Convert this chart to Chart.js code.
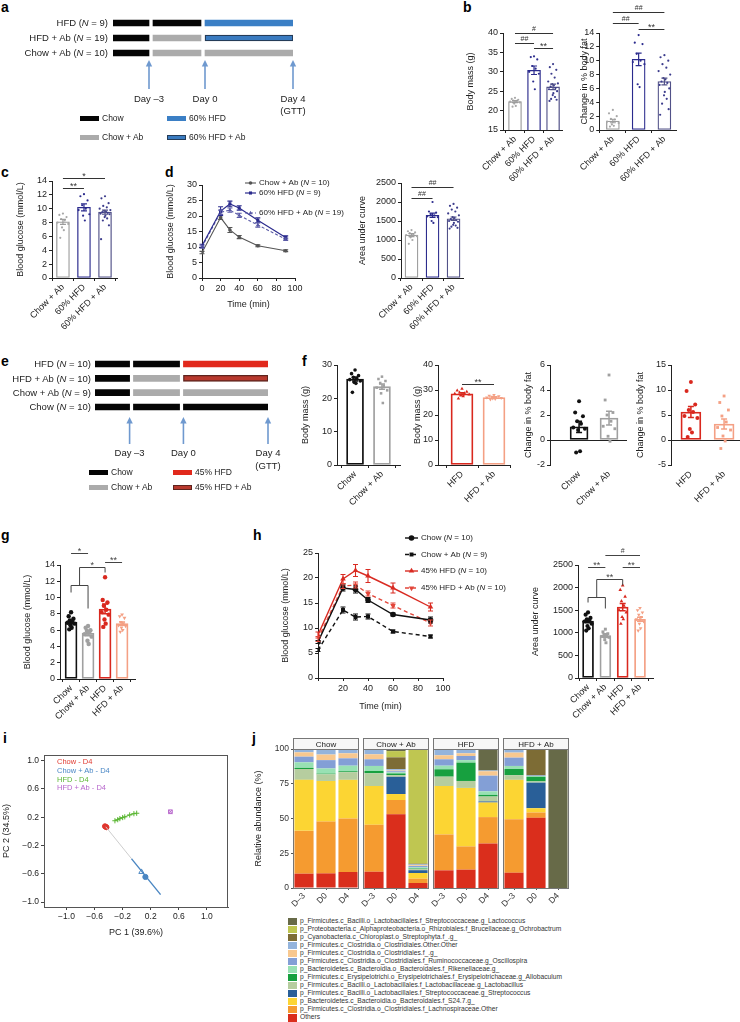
<!DOCTYPE html>
<html><head><meta charset="utf-8">
<script src="https://cdn.jsdelivr.net/npm/chart.js@4.4.1/dist/chart.umd.min.js"></script>
<style>
html,body{margin:0;padding:0;background:#fff}
body{position:relative;width:740px;height:1022px;overflow:hidden;font-family:"Liberation Sans",Arial,Helvetica,sans-serif;color:#222}
canvas{position:absolute}
.t{position:absolute;white-space:nowrap;line-height:1}
.L{position:absolute;font-weight:bold;font-size:14px;line-height:1;color:#000}
.sw{position:absolute;box-sizing:border-box}
</style></head><body>
<script>
// ======================= DATA =======================
// a / e : study design (stage bounds in schematic units)
const stageBounds = [[0, 36], [40, 88], [92, 180]];
const stageMarks = [36, 92, 180];
const stageMarkLabels = ['Day –3', 'Day 0', 'Day 4'];
const stageMarkNotes = ['', '', '(GTT)'];
const rowsA = ['HFD (<i>N</i> = 9)', 'HFD + Ab (<i>N</i> = 19)', 'Chow + Ab (<i>N</i> = 10)'];
const dietsA = [['Chow', 'Chow', '60% HFD'], ['Chow', 'Chow + Ab', '60% HFD + Ab'], ['Chow', 'Chow + Ab', 'Chow + Ab']];
const legendA = [['Chow', '60% HFD'], ['Chow + Ab', '60% HFD + Ab']];
const rowsE = ['HFD (<i>N</i> = 10)', 'HFD + Ab (<i>N</i> = 10)', 'Chow + Ab (<i>N</i> = 9)', 'Chow (<i>N</i> = 10)'];
const dietsE = [['Chow', 'Chow', '45% HFD'], ['Chow', 'Chow + Ab', '45% HFD + Ab'], ['Chow', 'Chow + Ab', 'Chow + Ab'], ['Chow', 'Chow', 'Chow']];
const legendE = [['Chow', '45% HFD'], ['Chow + Ab', '45% HFD + Ab']];

// b, c, d : 60% HFD cohort
const groups60 = ['Chow + Ab', '60% HFD', '60% HFD + Ab'];
const massMean60 = [22.3, 30.4, 26.1];
const massSem60 = [0.25, 1.1, 0.7];
const massPts60 = [
  [23.3, 23.0, 22.8, 22.6, 22.5, 22.3, 22.1, 21.8, 21.2, 21.0],
  [34.0, 33.8, 33.2, 31.5, 30.8, 30.0, 29.5, 27.5, 25.5],
  [32.0, 31.2, 30.5, 29.5, 28.5, 27.5, 27.0, 26.8, 26.5, 26.2, 25.8, 25.5, 25.0, 24.5, 24.0, 23.5, 23.0, 22.8, 22.5]];
const fatMean60 = [1.3, 10.2, 7.0];
const fatSem60 = [0.25, 0.9, 0.5];
const fatPts60 = [
  [2.9, 2.4, 2.0, 1.6, 1.5, 1.2, 1.0, 0.8, 0.6, 0.5],
  [13.7, 12.6, 12.4, 11.0, 10.0, 9.8, 9.5, 6.6, 6.2],
  [10.8, 10.5, 10.0, 9.5, 9.0, 8.5, 8.0, 7.5, 7.3, 7.0, 6.8, 6.5, 6.0, 5.5, 5.0, 4.5, 3.8, 3.0, 2.2]];
const glcMean60 = [8.1, 10.2, 9.5];
const glcSem60 = [0.35, 0.5, 0.3];
const glcPts60 = [
  [9.3, 9.1, 8.8, 8.5, 8.3, 8.0, 7.8, 7.3, 6.9, 5.8],
  [12.1, 11.8, 11.2, 10.5, 10.0, 9.8, 9.2, 9.0, 8.3],
  [11.8, 11.5, 10.8, 10.4, 10.2, 10.0, 9.8, 9.7, 9.6, 9.5, 9.4, 9.3, 9.2, 9.0, 8.8, 8.6, 8.3, 7.6, 5.6]];
const aucMean60 = [1130, 1650, 1560];
const aucSem60 = [40, 55, 45];
const aucPts60 = [
  [1260, 1230, 1200, 1180, 1150, 1130, 1100, 1070, 1000, 900],
  [2000, 1750, 1720, 1680, 1650, 1620, 1600, 1500, 1450],
  [1950, 1900, 1850, 1800, 1750, 1700, 1650, 1600, 1580, 1550, 1520, 1500, 1480, 1450, 1400, 1380, 1350, 1320, 1300]];
const gttTimes = [0, 20, 30, 40, 60, 90];
const gttChowAb60 = [8.2, 19.5, 15.5, 13.2, 10.4, 8.8];
const gttChowAb60Sem = [0.4, 0.6, 0.8, 0.5, 0.3, 0.3];
const gttHfd60 = [10.4, 21.6, 23.9, 22.6, 18.6, 13.1];
const gttHfd60Sem = [0.5, 1.4, 0.9, 0.7, 0.8, 0.5];
const gttHfdAb60 = [10.0, 21.2, 21.9, 20.2, 17.1, 12.5];
const gttHfdAb60Sem = [0.4, 0.7, 0.7, 0.7, 0.7, 0.4];
const legendD = [['Chow + Ab (', 'N', ' = 10)'], ['60% HFD (', 'N', ' = 9)'], ['60% HFD + Ab (', 'N', ' = 19)']];

// f, g, h : 45% HFD cohort
const groupsChow = ['Chow', 'Chow + Ab'];
const groupsHfd = ['HFD', 'HFD + Ab'];
const groups45 = ['Chow', 'Chow + Ab', 'HFD', 'HFD + Ab'];
const massMeanChow = [25.8, 23.5];
const massSemChow = [0.6, 0.8];
const massPtsChow = [
  [28.5, 27.4, 26.8, 26.3, 25.9, 25.6, 25.2, 24.8, 24.5, 21.8],
  [26.5, 25.8, 25.2, 24.6, 23.8, 23.2, 22.4, 21.5, 18.6]];
const massMeanHfd = [28.5, 27.0];
const massSemHfd = [0.4, 0.3];
const massPtsHfd = [
  [30.5, 29.8, 29.3, 29.0, 28.7, 28.5, 28.2, 27.8, 27.5, 26.6],
  [28.0, 27.7, 27.5, 27.3, 27.1, 27.0, 26.8, 26.6, 26.4, 26.2]];
const fatMeanChow = [1.05, 1.75];
const fatSemChow = [0.45, 0.55];
const fatPtsChow = [
  [3.1, 2.2, 1.9, 1.5, 1.3, 1.0, 0.9, 0.8, -0.9, -1.0],
  [5.2, 3.2, 2.2, 2.0, 1.5, 1.1, 0.9, 0.3, -0.1]];
const fatMeanHfd = [5.6, 3.2];
const fatSemHfd = [1.1, 1.0];
const fatPtsHfd = [
  [11.6, 9.8, 7.1, 6.0, 5.6, 4.8, 4.4, 2.2, 1.5, 0.6],
  [8.8, 7.5, 6.0, 4.8, 3.6, 2.5, 2.0, 0.8, -0.2, -1.7]];
const glcMean45 = [7.0, 5.6, 8.6, 6.8];
const glcSem45 = [0.2, 0.3, 0.6, 0.2];
const glcPts45 = [
  [8.2, 7.7, 7.4, 7.2, 7.0, 6.9, 6.8, 6.6, 6.3, 6.1],
  [6.5, 6.3, 6.0, 5.9, 5.7, 5.5, 5.2, 4.7, 4.3],
  [12.5, 9.7, 9.4, 9.0, 8.5, 8.2, 7.9, 7.3, 6.8, 6.4],
  [7.9, 7.7, 7.5, 7.0, 6.8, 6.6, 6.5, 6.3, 6.0, 5.8]];
const aucMean45 = [1260, 940, 1570, 1300];
const aucSem45 = [40, 40, 80, 45];
const aucPts45 = [
  [1450, 1400, 1330, 1300, 1280, 1250, 1200, 1150, 1100, 1050],
  [1080, 1020, 980, 960, 940, 920, 900, 850, 780],
  [2050, 1950, 1800, 1700, 1600, 1500, 1450, 1350, 1300, 1200],
  [1550, 1500, 1450, 1400, 1350, 1300, 1250, 1200, 1100, 1050]];
const gttChow45 = [7.2, 18.0, 17.7, 15.6, 12.7, 11.6];
const gttChow45Sem = [0.3, 0.6, 0.7, 0.5, 0.3, 0.6];
const gttChowAb45 = [5.6, 13.6, 12.2, 12.3, 9.3, 8.3];
const gttChowAb45Sem = [0.3, 0.6, 0.6, 0.5, 0.3, 0.3];
const gttHfd45 = [8.6, 19.8, 21.5, 20.4, 18.0, 14.2];
const gttHfd45Sem = [0.6, 0.9, 1.2, 1.3, 1.0, 0.8];
const gttHfdAb45 = [7.8, 18.4, 18.6, 16.9, 14.5, 11.0];
const gttHfdAb45Sem = [0.5, 0.5, 0.6, 0.5, 0.5, 0.6];
const legendH = [['Chow (', 'N', ' = 10)'], ['Chow + Ab (', 'N', ' = 9)'], ['45% HFD (', 'N', ' = 10)'], ['45% HFD + Ab (', 'N', ' = 10)']];

// i : PCA
const pcChowD4 = [[-0.44, 0.064], [-0.452, 0.072], [-0.43, 0.058]];
const pcHfdD4 = [[-0.31, 0.15], [-0.27, 0.165], [-0.24, 0.18], [-0.2, 0.195], [-0.17, 0.205], [-0.1, 0.232], [-0.04, 0.25], [0.0, 0.256]];
const pcHfdAbD4 = [[0.48, 0.277]];
const pcChowAbD4 = [[0.067, -0.574], [0.124, -0.645]];
const pcChowAbPath = [[-0.075, -0.385], [0.34, -0.895]];
const pcLink = [[-0.44, 0.064], [-0.075, -0.385]];
const pcTicks = [-1.0, -0.6, -0.2, 0.2, 0.6, 1.0];
const pcLegend = ['Chow - D4', 'Chow + Ab - D4', 'HFD - D4', 'HFD + Ab - D4'];

// j : relative abundance (%) ; bars = Chow D-3,D0,D4 | Chow+Ab | HFD | HFD+Ab
const facets = ['Chow', 'Chow + Ab', 'HFD', 'HFD + Ab'];
const days = ['D–3', 'D0', 'D4'];
const abOthers    = [10.3, 10.5, 11.5, 11.7, 53.0, 3.6, 12.7, 13.2, 32.0, 11.0, 50.5, 0];
const abLachno    = [30.8, 37.3, 38.5, 33.8, 10.3, 3.1, 25.8, 16.7, 19.0, 38.5, 3.8, 0];
const abS247      = [36.7, 29.2, 27.8, 27.9, 4.3, 4.1, 34.9, 42.1, 10.5, 28.3, 3.1, 0];
const abStrep     = [0, 0, 0, 0, 12.4, 2.0, 0, 0, 0.8, 0, 18.4, 0];
const abLacto     = [7.8, 4.8, 5.5, 9.1, 1.2, 0.8, 6.7, 5.0, 3.5, 3.3, 0.9, 0];
const abAllo      = [0.8, 0.5, 0.7, 1.7, 1.2, 0.4, 5.3, 13.2, 1.2, 4.5, 3.3, 0];
const abRiken     = [4.0, 3.7, 4.0, 3.6, 0.8, 0.8, 2.6, 1.8, 2.5, 2.2, 0.5, 0];
const abOscill    = [4.1, 6.0, 5.3, 4.8, 0.8, 1.0, 4.6, 3.0, 11.3, 6.0, 0.5, 0];
const abClosFg    = [3.1, 4.0, 3.6, 3.6, 0.5, 0.6, 2.9, 1.9, 3.2, 3.6, 0, 0];
const abClosOther = [2.4, 4.0, 3.1, 3.8, 1.0, 0.6, 4.5, 3.1, 0.5, 2.6, 0, 0];
const abChloro    = [0, 0, 0, 0, 8.5, 0.5, 0, 0, 0, 0, 19.0, 0];
const abOchro     = [0, 0, 0, 0, 4.5, 82.5, 0, 0, 0, 0, 0, 0];
const abLactoc    = [0, 0, 0, 0, 1.5, 0, 0, 0, 15.5, 0, 0, 100];
const taxaNames = [
  'Others',
  'p_Firmicutes.c_Clostridia.o_Clostridiales.f_Lachnospiraceae.Other',
  'p_Bacteroidetes.c_Bacteroidia.o_Bacteroidales.f_S24.7.g_',
  'p_Firmicutes.c_Bacilli.o_Lactobacillales.f_Streptococcaceae.g_Streptococcus',
  'p_Firmicutes.c_Bacilli.o_Lactobacillales.f_Lactobacillaceae.g_Lactobacillus',
  'p_Firmicutes.c_Erysipelotrichi.o_Erysipelotrichales.f_Erysipelotrichaceae.g_Allobaculum',
  'p_Bacteroidetes.c_Bacteroidia.o_Bacteroidales.f_Rikenellaceae.g_',
  'p_Firmicutes.c_Clostridia.o_Clostridiales.f_Ruminococcaceae.g_Oscillospira',
  'p_Firmicutes.c_Clostridia.o_Clostridiales.f_.g_',
  'p_Firmicutes.c_Clostridia.o_Clostridiales.Other.Other',
  'p_Cyanobacteria.c_Chloroplast.o_Streptophyta.f_.g_',
  'p_Proteobacteria.c_Alphaproteobacteria.o_Rhizobiales.f_Brucellaceae.g_Ochrobactrum',
  'p_Firmicutes.c_Bacilli.o_Lactobacillales.f_Streptococcaceae.g_Lactococcus'];
const taxaValues = [abOthers, abLachno, abS247, abStrep, abLacto, abAllo, abRiken, abOscill, abClosFg, abClosOther, abChloro, abOchro, abLactoc];

// ======================= STYLE =======================
const FONT = '"Liberation Sans", Arial, Helvetica, sans-serif';
const dietColor = {'Chow': '#050505', 'Chow + Ab': '#ababab', '60% HFD': '#3b7fc5', '60% HFD + Ab': '#3a7bc0', '45% HFD': '#e1291c', '45% HFD + Ab': '#b8392e'};
const dietBorder = {'60% HFD + Ab': '#253c58', '45% HFD + Ab': '#5e241e'};
const taxaColors = ['#da2e1c', '#f59b30', '#fcd533', '#295f98', '#b6cd9f', '#17a03f', '#98e1b3', '#839fd6', '#f8c88f', '#94b4dc', '#7d6c35', '#bfc651', '#676a48'];
const C60 = ['#9d9d9d', '#2b2b8d', '#525288'];
const P60 = ['#a8a8a8', '#2b2b8d', '#3c3c8c'];
const K = '#111111', G = '#a0a0a0', R = '#d9281e', S = '#f4a084';
const plainNum = v => String(v);

Chart.defaults.font.family = FONT;
Chart.defaults.font.size = 9;
Chart.defaults.color = '#222';
Chart.defaults.animation = false;
Chart.defaults.responsive = false;
Chart.defaults.maintainAspectRatio = false;
Chart.defaults.devicePixelRatio = 1;
Chart.defaults.events = [];
Chart.defaults.plugins.legend.display = false;
Chart.defaults.plugins.tooltip.enabled = false;

// ======================= HELPERS =======================
function addCanvas(x, y, w, h) {
  const c = document.createElement('canvas');
  c.width = w; c.height = h;
  c.style.left = x + 'px'; c.style.top = y + 'px';
  c.style.width = w + 'px'; c.style.height = h + 'px';
  document.body.appendChild(c);
  return c;
}
function addText(html, x, cy, size, align, color, cls) {
  const d = document.createElement('div');
  d.className = cls || 't';
  d.innerHTML = html;
  d.style.fontSize = size + 'px';
  d.style.top = (cy - size / 2) + 'px';
  if (color) d.style.color = color;
  if (align === 'right') d.style.right = (740 - x) + 'px';
  else if (align === 'center') { d.style.left = x + 'px'; d.style.transform = 'translateX(-50%)'; }
  else d.style.left = x + 'px';
  document.body.appendChild(d);
  return d;
}
function addBox(x, y, w, h, fill, border) {
  const d = document.createElement('div');
  d.className = 'sw';
  d.style.left = x + 'px'; d.style.top = y + 'px';
  d.style.width = w + 'px'; d.style.height = h + 'px';
  d.style.background = fill;
  if (border) d.style.border = '1px solid ' + border;
  document.body.appendChild(d);
}
function addLetter(ch, x, baseline) {
  const d = document.createElement('div');
  d.className = 'L'; d.textContent = ch;
  d.style.left = x + 'px'; d.style.top = (baseline - 12) + 'px';
  document.body.appendChild(d);
}
// horizontal spreading of individual dots (layout only)
const spreadPattern = [0, -1, 1, -0.5, 0.5, -1.5, 1.5, -0.25, 0.25, -0.75, 0.75, -1.25, 1.25, 0.1, -0.1, 0.6, -0.6, 1.1, -1.1];
function spread(k) { return spreadPattern[k % spreadPattern.length]; }
const toXY = arr => arr.map(p => ({x: p[0], y: p[1]}));

const errPlugin = {
  id: 'errs',
  afterDatasetsDraw(chart, args, o) {
    if (!o || !o.items) return;
    const ctx = chart.ctx, xs = chart.scales.x, ys = chart.scales.y;
    ctx.save();
    o.items.forEach(it => {
      it.m.forEach((m, i) => {
        const e = it.e[i];
        if (!e) return;
        const px = xs.getPixelForValue(it.xs ? it.xs[i] : i);
        const y1 = ys.getPixelForValue(m - e), y2 = ys.getPixelForValue(m + e);
        ctx.strokeStyle = Array.isArray(it.color) ? it.color[i] : it.color;
        ctx.lineWidth = it.w;
        ctx.beginPath();
        ctx.moveTo(px, y1); ctx.lineTo(px, y2);
        ctx.moveTo(px - it.cap, y1); ctx.lineTo(px + it.cap, y1);
        ctx.moveTo(px - it.cap, y2); ctx.lineTo(px + it.cap, y2);
        ctx.stroke();
      });
    });
    ctx.restore();
  }
};
const sigPlugin = {
  id: 'sig',
  afterDraw(chart, args, o) {
    if (!o || !o.items || !o.items.length) return;
    const ctx = chart.ctx, xs = chart.scales.x, ys = chart.scales.y;
    ctx.save();
    ctx.strokeStyle = o.color || '#333'; ctx.fillStyle = o.color || '#333';
    ctx.lineWidth = 1;
    ctx.textAlign = 'center'; ctx.textBaseline = 'alphabetic';
    o.items.forEach(it => {
      ctx.beginPath();
      it.p.forEach((q, k) => {
        const px = xs.getPixelForValue(q[0]), py = Math.round(ys.getPixelForValue(q[1])) + 0.5;
        if (k) ctx.lineTo(px, py); else ctx.moveTo(px, py);
      });
      ctx.stroke();
      if (it.s) {
        const a = it.p[0], b = it.p[it.p.length - 1];
        const tx = it.tx !== undefined ? it.tx : (a[0] + b[0]) / 2;
        const ty = it.ty !== undefined ? it.ty : a[1];
        const star = it.s.indexOf('*') >= 0;
        ctx.font = (star ? 9 : 7) + 'px ' + FONT;
        ctx.fillText(it.s, xs.getPixelForValue(tx), ys.getPixelForValue(ty) + (star ? 1 : -2));
      }
    });
    ctx.restore();
  }
};
const arrowPlugin = {
  id: 'arrows',
  afterDraw(chart, args, o) {
    if (!o || !o.marks) return;
    const ctx = chart.ctx, xs = chart.scales.x;
    ctx.save();
    o.marks.forEach((m, i) => {
      const px = xs.getPixelForValue(m);
      const tip = o.tip - o.top, base = o.base - o.top;
      ctx.strokeStyle = '#6f99cf'; ctx.fillStyle = '#6f99cf'; ctx.lineWidth = 1.6;
      ctx.beginPath(); ctx.moveTo(px, base); ctx.lineTo(px, tip + 5); ctx.stroke();
      ctx.beginPath(); ctx.moveTo(px, tip); ctx.lineTo(px - 3.2, tip + 6.5); ctx.lineTo(px + 3.2, tip + 6.5); ctx.closePath(); ctx.fill();
      ctx.fillStyle = '#222'; ctx.font = '9.5px ' + FONT; ctx.textAlign = 'center'; ctx.textBaseline = 'middle';
      ctx.fillText(o.labels[i], px, o.ty - o.top);
      if (o.notes[i]) ctx.fillText(o.notes[i], px, o.ty2 - o.top);
    });
    ctx.restore();
  }
};
const legPlugin = {
  id: 'leg',
  afterDraw(chart, args, o) {
    if (!o || !o.items) return;
    const ctx = chart.ctx;
    ctx.save();
    o.items.forEach((it, i) => {
      const cy = o.y[i] - o.top, x0 = o.x0 - o.left, x1 = o.x1 - o.left;
      ctx.strokeStyle = it.c; ctx.fillStyle = it.c; ctx.lineWidth = it.lw;
      ctx.setLineDash(it.dash || []);
      ctx.beginPath(); ctx.moveTo(x0, cy); ctx.lineTo(x1, cy); ctx.stroke();
      ctx.setLineDash([]);
      Chart.helpers.drawPoint(ctx, {pointStyle: it.ps, rotation: it.rot || 0, radius: it.pr, borderWidth: 0}, (x0 + x1) / 2, cy);
      ctx.fillStyle = '#222'; ctx.textBaseline = 'middle'; ctx.textAlign = 'left';
      let x = o.tx - o.left;
      it.t.forEach((seg, k) => {
        ctx.font = (k === 1 ? 'italic ' : '') + o.size + 'px ' + FONT;
        ctx.fillText(seg, x, cy);
        x += ctx.measureText(seg).width;
      });
    });
    ctx.restore();
  }
};
const framePlugin = {
  id: 'frame',
  afterDraw(chart, args, o) {
    if (!o || !o.on) return;
    const ctx = chart.ctx, a = chart.chartArea;
    ctx.save();
    ctx.strokeStyle = o.color || '#666'; ctx.lineWidth = 1;
    ctx.strokeRect(Math.round(a.left) + 0.5, Math.round(a.top) + 0.5, Math.round(a.right - a.left) - 1, Math.round(a.bottom - a.top));
    if (o.strip) {
      const h = o.stripH;
      ctx.fillStyle = '#f7f7f7';
      ctx.fillRect(Math.round(a.left) + 0.5, Math.round(a.top) - h + 0.5, Math.round(a.right - a.left) - 1, h);
      ctx.strokeRect(Math.round(a.left) + 0.5, Math.round(a.top) - h + 0.5, Math.round(a.right - a.left) - 1, h);
      ctx.fillStyle = '#222'; ctx.font = '8px ' + FONT; ctx.textAlign = 'center'; ctx.textBaseline = 'middle';
      ctx.fillText(o.strip, (a.left + a.right) / 2, a.top - h / 2 + 1);
    }
    ctx.restore();
  }
};

// ======================= SCHEMATICS =======================
function schematic(o) {
  const cv = addCanvas(o.cx, o.cy, o.cw, o.ch);
  const padL = o.l - o.cx, padT = o.t - o.cy;
  const datasets = stageBounds.map((seg, k) => ({
    data: o.diets.map(() => seg),
    backgroundColor: o.diets.map(r => dietColor[r[k]]),
    borderColor: o.diets.map(r => dietBorder[r[k]] || dietColor[r[k]]),
    borderWidth: o.diets.map(r => dietBorder[r[k]] ? 1.3 : 0),
    borderSkipped: false, barThickness: 6, grouped: false
  }));
  new Chart(cv, {
    type: 'bar',
    data: {labels: o.diets.map((r, i) => 'row' + i), datasets},
    options: {
      indexAxis: 'y',
      layout: {padding: {left: padL, top: padT, right: o.cw - padL - (o.r - o.l), bottom: o.ch - padT - (o.b - o.t)}},
      scales: {x: {type: 'linear', display: false, min: 0, max: 180}, y: {display: false}},
      plugins: {arrows: {marks: stageMarks, labels: stageMarkLabels, notes: stageMarkNotes, top: o.cy, tip: o.tip, base: o.base, ty: o.ty, ty2: o.ty2}}
    },
    plugins: [arrowPlugin]
  });
  o.rows.forEach((r, i) => addText(r, o.labelX, o.t + (i + 0.5) * (o.b - o.t) / o.rows.length, 9.5, 'right'));
  o.legend.forEach((row, i) => {
    row.forEach((name, j) => {
      const sx = o.legX[j], cy = o.legY[i];
      addBox(sx, cy - 2.5, o.legW, 5, dietColor[name], dietBorder[name]);
      addText(name, sx + o.legW + 3, cy, 8.5, 'left');
    });
  });
}

// ======================= BAR + DOTS =======================
function dotBar(o) {
  const lh = 10.8;
  const cl = Math.round(o.titleX - lh / 2);
  const ML = o.box.l - cl, MT = 32, MR = 12, MB = 64;
  const W = o.box.r - o.box.l + ML + MR, H = o.box.b - o.box.t + MT + MB;
  const cv = addCanvas(cl, o.box.t - MT, W, H);
  const ds = [{
    type: 'bar', order: 3,
    data: o.mean.map((m, i) => ({x: i, y: m})),
    backgroundColor: '#ffffff', borderColor: o.col, borderWidth: o.bw,
    barThickness: o.barW, borderSkipped: false
  }];
  o.pts.forEach((arr, i) => ds.push({
    type: 'scatter', order: 1,
    data: arr.map((v, k) => ({x: i + spread(k) * o.jw, y: v})),
    pointStyle: o.ps ? o.ps[i] : 'circle',
    rotation: o.rot ? o.rot[i] : 0,
    pointRotation: o.rot ? o.rot[i] : 0,
    pointRadius: o.pr, pointBorderWidth: 0,
    pointBackgroundColor: (o.pcol || o.col)[i],
    pointBorderColor: (o.pcol || o.col)[i]
  }));
  new Chart(cv, {
    type: 'bar', data: {datasets: ds},
    options: {
      layout: {padding: {top: MT, right: MR, left: 0, bottom: 0}},
      scales: {
        x: {type: 'linear', min: o.xmin, max: o.xmax, offset: false,
            afterBuildTicks: s => { s.ticks = o.labels.map((_, i) => ({value: i})); },
            afterFit: s => { s.height = MB; },
            ticks: {callback: v => o.labels[v], minRotation: 45, maxRotation: 45, autoSkip: false, padding: 1, color: '#222'},
            grid: {display: !o.zero, drawOnChartArea: false, drawTicks: true, tickLength: 3, color: '#222'},
            border: {display: !o.zero, color: '#222', width: 1}},
        y: {min: o.ymin, max: o.ymax,
            ticks: {stepSize: o.step, padding: 2, color: '#222', callback: plainNum},
            afterFit: s => { s.width = ML; },
            title: {display: true, text: o.ytitle, padding: 0, color: '#222'},
            grid: {drawOnChartArea: !!o.zero, drawTicks: true, tickLength: 3, tickColor: '#222',
                   color: c => (o.zero && c.tick && c.tick.value === 0) ? '#222' : 'rgba(0,0,0,0)'},
            border: {color: '#222', width: 1}}
      },
      plugins: {
        errs: {items: [{m: o.mean, e: o.sem, color: o.col, w: o.ew || 1.2, cap: o.cap || 3}]},
        sig: {items: o.sig || [], color: o.sigColor || '#333'}
      }
    },
    plugins: [errPlugin, sigPlugin]
  });
}

// ======================= LINE (GTT) =======================
function gttChart(o) {
  const lh = 10.8;
  const cl = Math.round(o.titleX - lh / 2);
  const ML = o.box.l - cl, MT = o.MT, MR = o.MR;
  const cb = Math.round(o.xTitleY + lh / 2);
  const MB = cb - o.box.b;
  const top = o.box.t - MT;
  const W = o.box.r - o.box.l + ML + MR, H = cb - top;
  const cv = addCanvas(cl, top, W, H);
  const ds = o.series.map(s => ({
    type: 'line', data: gttTimes.map((t, i) => ({x: t, y: s.v[i]})),
    borderColor: s.c, backgroundColor: s.c, borderWidth: s.lw, borderDash: s.dash || [],
    pointStyle: s.ps, pointRadius: s.pr, pointRotation: s.rot || 0, pointBorderWidth: 0,
    pointBackgroundColor: s.c, pointBorderColor: s.c, tension: 0
  }));
  new Chart(cv, {
    type: 'line', data: {datasets: ds},
    options: {
      layout: {padding: {top: MT, right: MR, left: 0, bottom: 0}},
      scales: {
        x: {type: 'linear', min: 0, max: 100,
            ticks: {stepSize: 20, padding: 2, maxRotation: 0, color: '#222', callback: v => (o.hide0 && v === 0) ? '' : String(v)},
            afterFit: s => { s.height = MB; },
            title: {display: true, text: 'Time (min)', padding: 0, color: '#222'},
            grid: {drawOnChartArea: false, drawTicks: true, tickLength: 3, color: '#222'},
            border: {color: '#222', width: 1}},
        y: {min: 0, max: o.ymax, ticks: {stepSize: 5, padding: 2, color: '#222', callback: plainNum},
            afterFit: s => { s.width = ML; },
            title: {display: true, text: 'Blood glucose (mmol/L)', padding: 0, color: '#222'},
            grid: {drawOnChartArea: false, drawTicks: true, tickLength: 3, color: '#222'},
            border: {color: '#222', width: 1}}
      },
      plugins: {
        errs: {items: o.series.map(s => ({xs: gttTimes, m: s.v, e: s.e, color: s.c, w: 1.1, cap: 2.5}))},
        leg: {items: o.series.map((s, i) => ({c: s.c, lw: s.lw, dash: s.dash, ps: s.ps, rot: s.rot, pr: s.pr, t: o.legend[i]})),
              top: top, left: cl, x0: o.leg.x0, x1: o.leg.x1, tx: o.leg.tx, y: o.leg.y, size: 8}
      }
    },
    plugins: [errPlugin, legPlugin]
  });
}

// ======================= BUILD =======================
// letters
[['a', 1, 12], ['b', 463, 12], ['c', 1, 177], ['d', 165, 177], ['e', 1, 366], ['f', 302, 366],
 ['g', 1, 540], ['h', 253, 540], ['i', 3, 743], ['j', 252, 743]].forEach(l => addLetter(l[0], l[1], l[2]));

// a
schematic({cx: 100, cy: 5, cw: 215, ch: 115, l: 113, r: 293, t: 15.5, b: 60.5,
  diets: dietsA, rows: rowsA, legend: legendA, labelX: 108,
  tip: 60, base: 89, ty: 99, ty2: 111, legX: [80, 167], legY: [118, 137], legW: 19});
// e
schematic({cx: 85, cy: 350, cw: 200, ch: 125, l: 95, r: 268, t: 356.8, b: 414.2,
  diets: dietsE, rows: rowsE, legend: legendE, labelX: 91,
  tip: 417, base: 444, ty: 453, ty2: 466, legX: [89, 173], legY: [472, 487], legW: 19});

// b
dotBar({box: {l: 503, t: 33, r: 562, b: 130}, titleX: 470, ytitle: 'Body mass (g)',
  labels: groups60, mean: massMean60, sem: massSem60, pts: massPts60,
  ymin: 15, ymax: 40, step: 5, xmin: -0.63, xmax: 2.47, col: C60, pcol: P60,
  pr: 1.1, barW: 13, bw: 1.3, jw: 0.17, ew: 1.2,
  sig: [{p: [[0, 40], [2, 40]], s: '#'}, {p: [[0, 37.4], [1, 37.4]], s: '##'}, {p: [[1, 36.1], [2, 36.1]], s: '**'}]});
dotBar({box: {l: 597, t: 33, r: 676, b: 130}, titleX: 582, ytitle: 'Change in % body fat',
  labels: groups60, mean: fatMean60, sem: fatSem60, pts: fatPts60,
  ymin: 0, ymax: 14, step: 2, xmin: -0.53, xmax: 2.45, col: C60, pcol: P60,
  pr: 1.1, barW: 13, bw: 1.3, jw: 0.15, ew: 1.2,
  sig: [{p: [[0, 17], [2, 17]], s: '##'}, {p: [[0, 15.4], [1, 15.4]], s: '##'}, {p: [[1, 14.6], [2, 14.6]], s: '**'}]});
// c
dotBar({box: {l: 52, t: 181, r: 117, b: 278}, titleX: 20, ytitle: 'Blood glucose (mmol/L)',
  labels: groups60, mean: glcMean60, sem: glcSem60, pts: glcPts60,
  ymin: 0, ymax: 14, step: 2, xmin: -0.52, xmax: 2.57, col: C60, pcol: P60,
  pr: 1.1, barW: 13, bw: 1.3, jw: 0.17, ew: 1.2,
  sig: [{p: [[0, 14.43], [2, 14.43]], s: '*'}, {p: [[0, 12.99], [1, 12.99]], s: '**'}]});
// d
gttChart({box: {l: 202, t: 185, r: 295, b: 278}, titleX: 170, xTitleY: 305, ymax: 30, MR: 70, MT: 14,
  series: [
    {v: gttChowAb60, e: gttChowAb60Sem, c: '#555555', lw: 1.1, ps: 'circle', pr: 1.8},
    {v: gttHfd60, e: gttHfd60Sem, c: '#2b2b8d', lw: 1.2, ps: 'rect', pr: 2.2},
    {v: gttHfdAb60, e: gttHfdAb60Sem, c: '#5a5aa6', lw: 1.1, dash: [3, 2], ps: 'triangle', pr: 2.3}],
  legend: legendD, leg: {x0: 245, x1: 256, tx: 259, y: [183, 193, 213]}});
dotBar({box: {l: 401, t: 183, r: 463, b: 278}, titleX: 362, ytitle: 'Area under curve',
  labels: groups60, mean: aucMean60, sem: aucSem60, pts: aucPts60,
  ymin: 0, ymax: 2500, step: 500, xmin: -0.5, xmax: 2.45, col: C60, pcol: P60,
  pr: 1.1, barW: 13, bw: 1.3, jw: 0.17, ew: 1.2,
  sig: [{p: [[0, 2395], [2, 2395]], s: '##'}, {p: [[0, 2105], [1, 2105]], s: '##'}]});

// f
dotBar({box: {l: 337, t: 365, r: 400, b: 465}, titleX: 305, ytitle: 'Body mass (g)',
  labels: groupsChow, mean: massMeanChow, sem: massSemChow, pts: massPtsChow,
  ymin: 0, ymax: 30, step: 10, xmin: -0.67, xmax: 1.67, col: [K, G], ps: ['circle', 'rect'],
  pr: 1.8, barW: 17, bw: 1.8, jw: 0.13, ew: 1.5});
dotBar({box: {l: 438, t: 365, r: 510, b: 465}, titleX: 417, ytitle: 'Body mass (g)',
  labels: groupsHfd, mean: massMeanHfd, sem: massSemHfd, pts: massPtsHfd,
  ymin: 0, ymax: 40, step: 10, xmin: -0.75, xmax: 1.5, col: [R, S], ps: ['triangle', 'triangle'], rot: [0, 180],
  pr: 2, barW: 22, bw: 1.8, jw: 0.15, ew: 1.5,
  sig: [{p: [[0, 32.4], [1, 32.4]], s: '**'}]});
dotBar({box: {l: 550, t: 365, r: 627, b: 465}, titleX: 528, ytitle: 'Change in % body fat',
  labels: groupsChow, mean: fatMeanChow, sem: fatSemChow, pts: fatPtsChow,
  ymin: -2, ymax: 6, step: 2, xmin: -0.97, xmax: 1.6, col: [K, G], ps: ['circle', 'rect'], zero: true,
  pr: 2, barW: 18, bw: 1.8, jw: 0.13, ew: 1.5});
dotBar({box: {l: 671, t: 365, r: 740, b: 465}, titleX: 640, ytitle: 'Change in % body fat',
  labels: groupsHfd, mean: fatMeanHfd, sem: fatSemHfd, pts: fatPtsHfd,
  ymin: -5, ymax: 15, step: 5, xmin: -0.6, xmax: 1.48, col: [R, S], ps: ['circle', 'rect'], zero: true,
  pr: 2, barW: 20, bw: 1.8, jw: 0.13, ew: 1.5});

// g
dotBar({box: {l: 60, t: 565, r: 135, b: 679}, titleX: 27, ytitle: 'Blood glucose (mmol/L)',
  labels: groups45, mean: glcMean45, sem: glcSem45, pts: glcPts45,
  ymin: 0, ymax: 14, step: 2, xmin: -0.65, xmax: 3.76, col: [K, G, R, S],
  ps: ['circle', 'circle', 'circle', 'triangle'], rot: [0, 0, 0, 180],
  pr: 2.2, barW: 12, bw: 1.8, jw: 0.14, ew: 1.5, sigColor: '#444',
  sig: [{p: [[0, 15.47], [1, 15.47]], s: '*'},
        {p: [[0, 10.68], [0, 11.54], [1, 11.54], [1, 8.72]]},
        {p: [[0.5, 11.54], [0.5, 13.75], [2, 13.75], [2, 13.14]], s: '*', tx: 1.25, ty: 13.75},
        {p: [[2, 14.37], [3, 14.37]], s: '**'}]});
// h
gttChart({box: {l: 318, t: 553, r: 443, b: 678}, titleX: 285, xTitleY: 707, ymax: 25, MR: 110, MT: 26, hide0: true,
  series: [
    {v: gttChow45, e: gttChow45Sem, c: '#111111', lw: 1.4, ps: 'circle', pr: 2.8},
    {v: gttChowAb45, e: gttChowAb45Sem, c: '#111111', lw: 1.4, dash: [4, 3], ps: 'rect', pr: 2.8},
    {v: gttHfd45, e: gttHfd45Sem, c: '#d92b22', lw: 1.4, ps: 'triangle', pr: 3.2},
    {v: gttHfdAb45, e: gttHfdAb45Sem, c: '#e2463a', lw: 1.4, dash: [4, 3], ps: 'triangle', rot: 180, pr: 3.2}],
  legend: legendH, leg: {x0: 405, x1: 418, tx: 421, y: [538, 554.5, 571, 588]}});
dotBar({box: {l: 578, t: 565, r: 653, b: 678}, titleX: 535, ytitle: 'Area under curve',
  labels: groups45, mean: aucMean45, sem: aucSem45, pts: aucPts45,
  ymin: 0, ymax: 2500, step: 500, xmin: -0.58, xmax: 3.75, col: [K, G, R, S],
  ps: ['circle', 'rect', 'triangle', 'triangle'], rot: [0, 0, 0, 180],
  pr: 2.1, barW: 11, bw: 1.8, jw: 0.14, ew: 1.5, sigColor: '#444',
  sig: [{p: [[1, 2721], [3, 2721]], s: '#'},
        {p: [[0, 2456], [1, 2456]], s: '**'},
        {p: [[2, 2456], [3, 2456]], s: '**'},
        {p: [[0, 1681], [0, 1792], [1, 1792], [1, 1549]]},
        {p: [[0.5, 1792], [0.5, 2190], [2, 2190], [2, 2058]], s: '**', tx: 1.25, ty: 2190}]});

// i : PCA
(function () {
  const box = {l: 44, t: 755, r: 228, b: 907};
  const cl = 1, ct = 745, cb = 938;
  const ML = box.l - cl, MT = box.t - ct, MB = cb - box.b, MR = 10;
  const cv = addCanvas(cl, ct, box.r - cl + MR, cb - ct);
  const fmt = v => (Math.round(v * 10) / 10).toFixed(1).replace('-', '−');
  new Chart(cv, {
    type: 'scatter',
    data: {datasets: [
      {data: toXY(pcLink), showLine: true, borderColor: '#cdcdcd', borderWidth: 1, pointRadius: 0},
      {data: toXY(pcChowAbPath), showLine: true, borderColor: '#4a86c2', borderWidth: 1.4, pointRadius: 0},
      {data: toXY(pcChowAbD4.slice(0, 1)), pointStyle: 'triangle', pointRadius: 3, pointBorderColor: '#4a86c2', pointBackgroundColor: 'rgba(0,0,0,0)', pointBorderWidth: 1},
      {data: toXY(pcChowAbD4.slice(1)), pointStyle: 'circle', pointRadius: 2.6, pointBackgroundColor: '#4a86c2', pointBorderColor: '#4a86c2'},
      {data: toXY(pcHfdD4), showLine: true, borderColor: '#5cb735', borderWidth: 1, pointStyle: 'cross', pointRadius: 2.6, pointBorderColor: '#5cb735', pointBorderWidth: 1},
      {data: toXY(pcChowD4), pointStyle: 'circle', pointRadius: 2.5, pointBackgroundColor: '#e0352d', pointBorderColor: '#e0352d'},
      {data: toXY(pcHfdAbD4), pointStyle: 'rect', pointRadius: 2.6, pointBackgroundColor: 'rgba(0,0,0,0)', pointBorderColor: '#b766cb', pointBorderWidth: 1},
      {data: toXY(pcHfdAbD4), pointStyle: 'crossRot', pointRadius: 2.6, pointBorderColor: '#b766cb', pointBorderWidth: 1}
    ]},
    options: {
      layout: {padding: {top: MT, right: MR, left: 0, bottom: 0}},
      scales: {
        x: {type: 'linear', min: -1.32, max: 1.30,
            afterBuildTicks: s => { s.ticks = pcTicks.map(v => ({value: v})); },
            afterFit: s => { s.height = MB; },
            ticks: {callback: fmt, padding: 2, maxRotation: 0, color: '#222', font: {size: 8.5}},
            title: {display: true, text: 'PC 1 (39.6%)', padding: 0, color: '#222'},
            grid: {drawOnChartArea: false, drawTicks: true, tickLength: 3, color: '#444'},
            border: {color: '#555', width: 1}},
        y: {type: 'linear', min: -1.07, max: 1.08,
            afterBuildTicks: s => { s.ticks = pcTicks.map(v => ({value: v})); },
            afterFit: s => { s.width = ML; },
            ticks: {callback: fmt, padding: 2, color: '#222', font: {size: 8.5}},
            title: {display: true, text: 'PC 2 (34.5%)', padding: 0, color: '#222'},
            grid: {drawOnChartArea: false, drawTicks: true, tickLength: 3, color: '#444'},
            border: {color: '#555', width: 1}}
      },
      plugins: {frame: {on: true, color: '#555'}}
    },
    plugins: [framePlugin]
  });
  const legCol = ['#e0392f', '#4a87c5', '#5cb735', '#b767cc'];
  const legY = [762, 771, 779.5, 788];
  pcLegend.forEach((t, i) => addText(t, 57, legY[i], 7.5, 'left', legCol[i]));
})();

// j : stacked relative abundance facets
const facetBoxes = [[293, 359], [363, 429], [433, 499], [503, 569]];
facetBoxes.forEach((fb, k) => {
  const t = 749, b = 888, MT = 14, MB = 22, showY = k === 0;
  const cl = showY ? 253 : fb[0] - 4;
  const ML = showY ? fb[0] - cl : 0;
  const padL = showY ? 0 : fb[0] - cl;
  const MR = 6;
  const cv = addCanvas(cl, t - MT, fb[1] - cl + MR, b - t + MT + MB);
  const idx = [3 * k, 3 * k + 1, 3 * k + 2];
  const ds = taxaValues.map((vals, j) => ({
    data: idx.map(i => vals[i]), backgroundColor: taxaColors[j], borderWidth: 0,
    barPercentage: 0.87, categoryPercentage: 1
  }));
  new Chart(cv, {
    type: 'bar',
    data: {labels: days, datasets: ds},
    options: {
      layout: {padding: {top: MT, right: MR, left: padL, bottom: 0}},
      scales: {
        x: {stacked: true, afterFit: s => { s.height = MB; },
            ticks: {minRotation: 45, maxRotation: 45, autoSkip: false, padding: 1, color: '#333', font: {size: 8.5}},
            grid: {offset: false, drawOnChartArea: false, drawTicks: true, tickLength: 2, color: '#555'},
            border: {display: false}},
        y: {stacked: true, display: showY, min: 0, max: 100,
            afterFit: s => { s.width = ML; },
            ticks: {stepSize: 25, padding: 2, color: '#333', font: {size: 8.5}, callback: plainNum},
            title: {display: true, text: 'Relative abundance (%)', padding: 0, color: '#222'},
            grid: {drawOnChartArea: false, drawTicks: true, tickLength: 2, color: '#555'},
            border: {display: false}}
      },
      plugins: {frame: {on: true, color: '#777', strip: facets[k], stripH: 11}}
    },
    plugins: [framePlugin]
  });
});
// j legend (top of stack first)
for (let r = 0; r < taxaNames.length; r++) {
  const j = taxaNames.length - 1 - r;
  const cy = 921 + r * 8.06;
  addBox(288, cy - 3.5, 9, 7.3, taxaColors[j]);
  addText(taxaNames[j], 300, cy, 6.7, 'left', '#333');
}
</script>
</body></html>
